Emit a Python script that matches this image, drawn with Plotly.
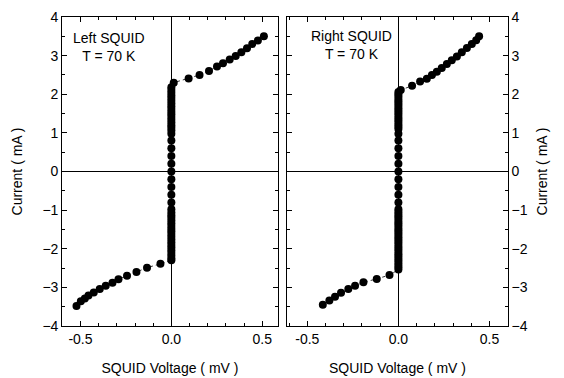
import plotly.graph_objects as go

# ---- data ----
left_lower_v = [-0.522, -0.498, -0.476, -0.456, -0.427, -0.394, -0.361, -0.324, -0.291, -0.244, -0.192, -0.134, -0.060, 0.0]
left_lower_i = [-3.48, -3.36, -3.29, -3.21, -3.13, -3.04, -2.96, -2.88, -2.79, -2.70, -2.60, -2.49, -2.39, -2.30]
left_vert_i = [-2.25, -2.18, -2.11, -2.04, -1.97, -1.90, -1.83, -1.76, -1.69, -1.62, -1.55, -1.48, -1.41,
               -1.34, -1.27, -1.20, -1.13, -1.06, -0.98, -0.80, -0.60, -0.40, -0.20, 0.0, 0.20, 0.40,
               0.60, 0.80, 0.98, 1.06, 1.13, 1.20, 1.27, 1.34, 1.41, 1.48, 1.55, 1.62, 1.69, 1.76,
               1.83, 1.90, 1.97, 2.04, 2.11, 2.18]
left_upper_v = [0.013, 0.095, 0.155, 0.207, 0.251, 0.284, 0.321, 0.354, 0.385, 0.416, 0.445, 0.476, 0.509]
left_upper_i = [2.30, 2.41, 2.50, 2.60, 2.72, 2.80, 2.90, 2.99, 3.09, 3.19, 3.30, 3.39, 3.50]

right_lower_v = [-0.415, -0.379, -0.348, -0.315, -0.275, -0.238, -0.192, -0.119, -0.049, 0.0]
right_lower_i = [-3.45, -3.34, -3.24, -3.14, -3.04, -2.96, -2.87, -2.78, -2.68, -2.54]
right_vert_i = [-2.48, -2.42, -2.36, -2.30, -2.24, -2.18, -2.12, -2.06, -2.00, -1.94, -1.88, -1.82,
                -1.76, -1.70, -1.64, -1.58, -1.52, -1.46, -1.40, -1.34, -1.28, -1.22, -1.16, -1.10,
                -1.04, -0.98, -0.80, -0.60, -0.40, -0.20, 0.0, 0.20, 0.40, 0.60, 0.80, 0.98, 1.10,
                1.16, 1.22, 1.28, 1.34, 1.40, 1.46, 1.52, 1.58, 1.64, 1.70, 1.76, 1.82, 1.88, 1.94,
                2.00, 2.06]
right_upper_v = [0.013, 0.075, 0.119, 0.156, 0.184, 0.211, 0.238, 0.266, 0.293, 0.321, 0.348, 0.376, 0.403, 0.427, 0.443]
right_upper_i = [2.11, 2.22, 2.33, 2.40, 2.50, 2.58, 2.68, 2.78, 2.88, 2.98, 3.09, 3.20, 3.30, 3.40, 3.50]

panel_labels = ["Left SQUID<br>T = 70 K", "Right SQUID<br>T = 70 K"]
x_title = "SQUID Voltage ( mV )"
y_title = "Current ( mA )"

FONT = "Liberation Sans, Arial, sans-serif"

def curve(lv, li, vi, uv, ui):
    v = list(lv) + [0.0] * len(vi) + list(uv)
    i = list(li) + list(vi) + list(ui)
    return v, i

lv, li = curve(left_lower_v, left_lower_i, left_vert_i, left_upper_v, left_upper_i)
rv, ri = curve(right_lower_v, right_lower_i, right_vert_i, right_upper_v, right_upper_i)

fig = go.Figure()
mk = dict(color="black", size=8)
ln = dict(color="black", width=0.8, dash="dot")
fig.add_trace(go.Scatter(x=lv, y=li, mode="lines+markers", marker=mk, line=ln, xaxis="x", yaxis="y"))
fig.add_trace(go.Scatter(x=rv, y=ri, mode="lines+markers", marker=mk, line=ln, xaxis="x2", yaxis="y2"))

W, H = 564, 378
ydom = [1 - 326 / H, 1 - 17 / H]

def xax(dom, rng, anchor):
    return dict(domain=dom, range=rng, anchor=anchor, automargin=False,
                tickvals=[-0.5, 0, 0.5], ticktext=["-0.5", "0.0", "0.5"],
                ticks="inside", ticklen=5, tickcolor="black", tickwidth=1,
                minor=dict(dtick=0.1, ticks="inside", ticklen=3, tickcolor="black"),
                showline=True, linecolor="black", linewidth=1.2, mirror="ticks",
                zeroline=True, zerolinecolor="black", zerolinewidth=1,
                showgrid=False,
                title=dict(text=x_title, font=dict(size=14, family=FONT, color="black"), standoff=17),
                tickfont=dict(size=14, family=FONT, color="black"))

def yax(anchor, side, standoff):
    return dict(domain=ydom, range=[-4, 4], anchor=anchor, side=side, automargin=False,
                dtick=1, ticks="inside", ticklen=5, tickcolor="black", tickwidth=1,
                minor=dict(dtick=0.5, ticks="inside", ticklen=3, tickcolor="black"),
                showline=True, linecolor="black", linewidth=1.2, mirror="ticks",
                zeroline=True, zerolinecolor="black", zerolinewidth=1,
                showgrid=False,
                title=dict(text=y_title, font=dict(size=14, family=FONT, color="black"), standoff=standoff),
                tickfont=dict(size=14, family=FONT, color="black"))

fig.update_layout(
    width=W, height=H,
    margin=dict(l=0, r=0, t=0, b=0, autoexpand=False),
    paper_bgcolor="white", plot_bgcolor="white",
    showlegend=False,
    font=dict(family=FONT, color="black"),
    xaxis=xax([62.3 / W, 277.7 / W], [-0.6, 0.585], "y"),
    xaxis2=xax([287.3 / W, 507.7 / W], [-0.61, 0.6], "y2"),
    yaxis=yax("x", "left", 16),
    yaxis2=yax("x2", "right", 10),
    annotations=[
        dict(text=panel_labels[0], x=-0.345, y=3.22, xref="x", yref="y", showarrow=False,
             font=dict(size=14, family=FONT, color="black"), align="center"),
        dict(text=panel_labels[1], x=-0.26, y=3.27, xref="x2", yref="y2", showarrow=False,
             font=dict(size=14, family=FONT, color="black"), align="center"),
    ],
)

fig.write_html("out.html", config={"displayModeBar": False},
               post_script="document.body.style.margin='0';document.body.style.overflow='hidden';")
